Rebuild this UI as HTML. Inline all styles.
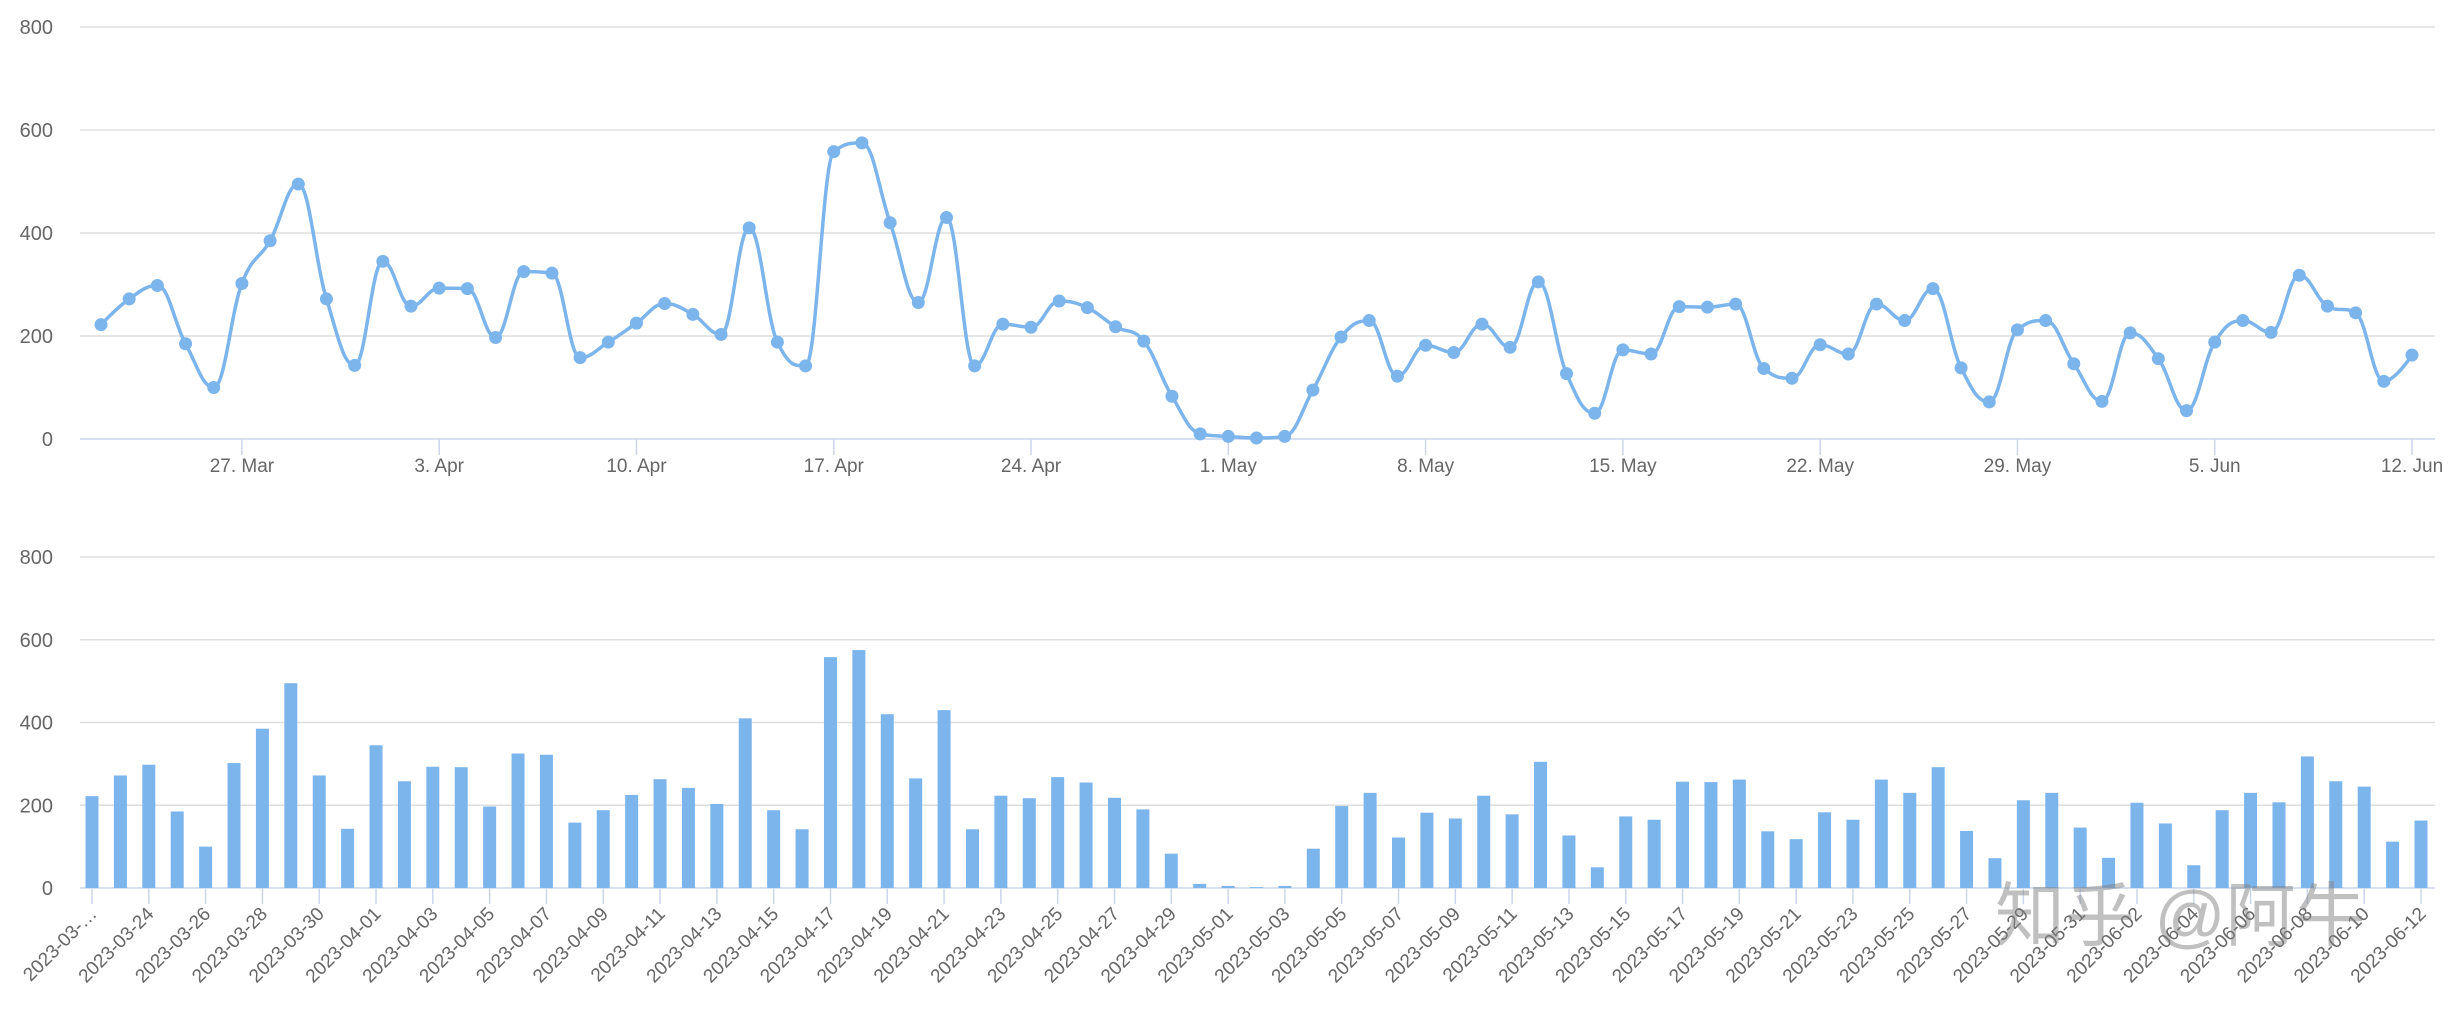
<!DOCTYPE html>
<html><head><meta charset="utf-8"><style>
html,body{margin:0;padding:0;background:#fff;width:2450px;height:1029px;overflow:hidden}
svg{display:block}
text{font-family:"Liberation Sans","Noto Sans CJK SC",sans-serif;fill:#666}
</style></head><body>
<svg id="s" width="2450" height="1029" xmlns="http://www.w3.org/2000/svg"></svg>
<script>
var v=[222,272,298,185,100,302,385,495,272,143,345,258,293,292,197,325,322,158,188,225,263,242,203,410,188,142,558,575,420,265,430,142,223,217,268,255,218,190,83,10,5,2,5,95,198,230,122,182,168,223,178,305,127,50,173,165,257,256,262,137,118,183,165,262,230,292,138,72,212,230,146,73,206,156,55,188,230,207,318,258,245,112,163];
var n=v.length,s='';
function d(i){var t=new Date(Date.UTC(2023,2,22+i));return t;}
function p2(x){return (x<10?'0':'')+x;}
var mon=['Jan','Feb','Mar','Apr','May','Jun'];
var L=80,R=2435,T0=439,TK=(439-27)/800;
var y1=[0,200,400,600,800];
y1.forEach(function(g){var y=T0-g*TK;s+='<line x1="'+L+'" x2="'+R+'" y1="'+y+'" y2="'+y+'" stroke="'+(g==0?'#ccd6eb':'#dedede')+'" stroke-width="1.6"/>';s+='<text x="53" y="'+(y+7)+'" font-size="20" text-anchor="end">'+g+'</text>';});
var X=function(i){return 101+i*(2412-101)/(n-1);};
var P=v.map(function(a,i){return [X(i),T0-a*TK];});
for(var i=0;i<n;i++){var t=d(i);if(t.getUTCDay()==1){var x=X(i);s+='<line x1="'+x+'" x2="'+x+'" y1="'+T0+'" y2="'+(T0+16)+'" stroke="#ccd6eb" stroke-width="1.5"/>';s+='<text x="'+x+'" y="472" font-size="19" text-anchor="middle">'+t.getUTCDate()+'. '+mon[t.getUTCMonth()]+'</text>';}}
var path='M'+P[0][0]+' '+P[0][1];var sm=1.5,dn=2.5;
function cont(i){var x=P[i][0],y=P[i][1];if(i==0||i==n-1)return [[x,y],[x,y]];var lx=P[i-1][0],ly=P[i-1][1],nx=P[i+1][0],ny=P[i+1][1];
var lcx=(sm*x+lx)/dn,lcy=(sm*y+ly)/dn,rcx=(sm*x+nx)/dn,rcy=(sm*y+ny)/dn;
var c=((rcy-lcy)*(rcx-x))/(rcx-lcx)+y-rcy;lcy+=c;rcy+=c;
if(lcy>ly&&lcy>y){lcy=Math.max(ly,y);rcy=2*y-lcy;}else if(lcy<ly&&lcy<y){lcy=Math.min(ly,y);rcy=2*y-lcy;}
if(rcy>ny&&rcy>y){rcy=Math.max(ny,y);lcy=2*y-rcy;}else if(rcy<ny&&rcy<y){rcy=Math.min(ny,y);lcy=2*y-rcy;}
return [[lcx,lcy],[rcx,rcy]];}
var C=P.map(function(_,i){return cont(i);});
for(var i=1;i<n;i++){path+=' C'+C[i-1][1][0]+' '+C[i-1][1][1]+' '+C[i][0][0]+' '+C[i][0][1]+' '+P[i][0]+' '+P[i][1];}
s+='<path d="'+path+'" fill="none" stroke="#7cb5ec" stroke-width="3.5"/>';
P.forEach(function(p){s+='<circle cx="'+p[0]+'" cy="'+p[1]+'" r="6.5" fill="#7cb5ec"/>';});
var B0=888,BK=(888-557)/800;
y1.forEach(function(g){var y=B0-g*BK;s+='<line x1="'+L+'" x2="'+R+'" y1="'+y+'" y2="'+y+'" stroke="'+(g==0?'#ccd6eb':'#dedede')+'" stroke-width="1.6"/>';s+='<text x="53" y="'+(y+7)+'" font-size="20" text-anchor="end">'+g+'</text>';});
var XB=function(i){return 92+i*(2421-92)/(n-1);};
v.forEach(function(a,i){var x=XB(i),h=a*BK;s+='<rect x="'+(x-6.5)+'" y="'+(B0-h)+'" width="13" height="'+h+'" fill="#7cb5ec"/>';
if(i%2==0){s+='<line x1="'+x+'" x2="'+x+'" y1="'+B0+'" y2="'+(B0+16)+'" stroke="#ccd6eb" stroke-width="1.5"/>';var t=d(i);var lab=i==0?'2023-03-…':'2023-'+p2(t.getUTCMonth()+1)+'-'+p2(t.getUTCDate());
s+='<text transform="translate('+(x+6)+' '+(B0+27)+') rotate(-45)" font-size="19" text-anchor="end">'+lab+'</text>';}});
s+='<text x="1995" y="940" font-size="70" style="fill:rgba(130,130,130,0.5)">知乎 @阿牛</text>';
document.getElementById('s').innerHTML=s;
</script>
</body></html>
